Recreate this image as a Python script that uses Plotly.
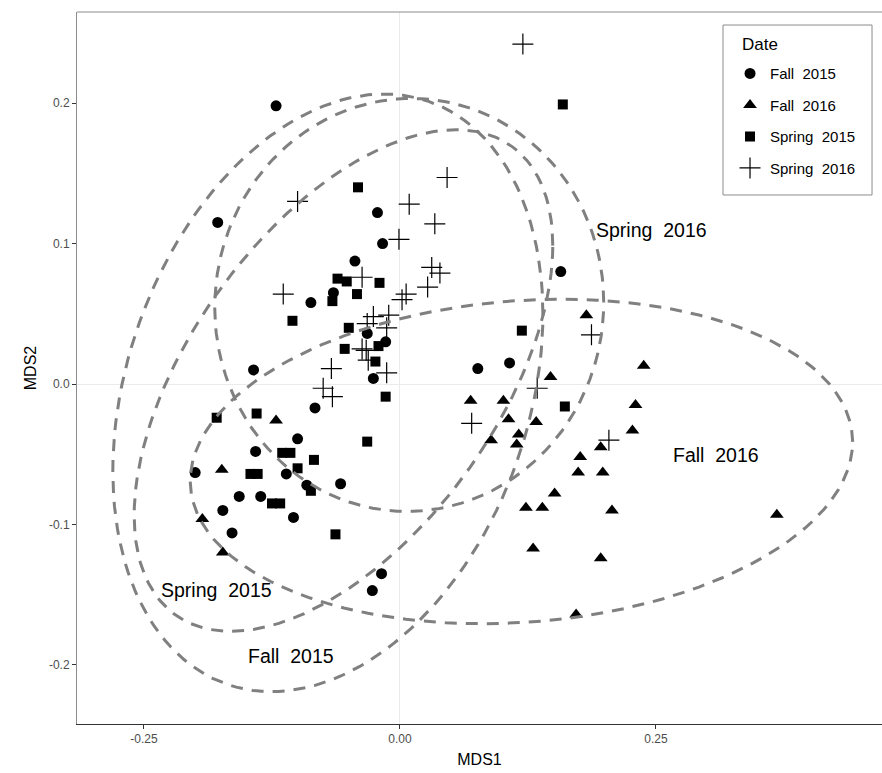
import numpy as np
import plotly.graph_objects as go

# ---------------- data ----------------
fall15_x = [-0.121, -0.178, -0.022, -0.017, -0.044, -0.065, -0.087, -0.032, -0.014, -0.026,
            -0.083, 0.157, 0.076, 0.107, -0.143, -0.141, -0.200, -0.157, -0.136, -0.111,
            -0.173, -0.164, -0.100, -0.091, -0.058, -0.104, -0.018, -0.027]
fall15_y = [0.198, 0.115, 0.122, 0.100, 0.0875, 0.065, 0.058, 0.036, 0.030, 0.004,
            -0.017, 0.080, 0.011, 0.015, 0.010, -0.048, -0.063, -0.080, -0.080, -0.064,
            -0.090, -0.106, -0.039, -0.072, -0.071, -0.095, -0.135, -0.147]

fall16_x = [0.182, 0.238, 0.147, 0.069, 0.101, 0.230, 0.106, 0.133, 0.089, 0.116,
            0.114, 0.227, 0.176, 0.196, 0.174, 0.198, 0.151, 0.123, 0.139, 0.207,
            0.368, 0.130, 0.196, 0.172, -0.121, -0.174, -0.193, -0.173]
fall16_y = [0.049, 0.013, 0.005, -0.012, -0.012, -0.015, -0.025, -0.027, -0.040, -0.036,
            -0.043, -0.033, -0.052, -0.045, -0.063, -0.063, -0.078, -0.088, -0.088, -0.090,
            -0.093, -0.117, -0.124, -0.164, -0.026, -0.061, -0.096, -0.120]

spring15_x = [0.159, -0.041, -0.061, -0.052, -0.020, -0.042, -0.066, -0.105, -0.050, -0.054,
              -0.021, -0.024, -0.014, 0.119, 0.161, -0.179, -0.140, -0.032, -0.115, -0.107,
              -0.084, -0.100, -0.146, -0.139, -0.087, -0.125, -0.117, -0.063]
spring15_y = [0.199, 0.140, 0.075, 0.073, 0.072, 0.064, 0.059, 0.045, 0.040, 0.025,
              0.027, 0.016, -0.009, 0.038, -0.016, -0.024, -0.021, -0.041, -0.049, -0.049,
              -0.054, -0.060, -0.064, -0.064, -0.076, -0.085, -0.085, -0.107]

spring16_x = [0.120, -0.100, -0.114, -0.037, 0.046, 0.009, 0.034, -0.001, 0.031, 0.039,
              0.027, 0.006, 0.002, -0.011, -0.026, -0.013, -0.032, -0.037, -0.033, -0.031,
              -0.067, -0.013, -0.075, -0.066, 0.187, 0.134, 0.070, 0.204]
spring16_y = [0.242, 0.130, 0.064, 0.076, 0.147, 0.128, 0.114, 0.103, 0.083, 0.079,
              0.069, 0.064, 0.060, 0.049, 0.048, 0.040, 0.043, 0.025, 0.024, 0.017,
              0.011, 0.008, -0.003, -0.009, 0.035, -0.003, -0.028, -0.040]

groups = ["Fall 2015", "Fall 2016", "Spring 2015", "Spring 2016"]
group_x = [fall15_x, fall16_x, spring15_x, spring16_x]
group_y = [fall15_y, fall16_y, spring15_y, spring16_y]
symbols = ["circle", "triangle-up", "square", "cross-thin"]
sizes = [11, 12, 10, 15]

label_text = ["Spring\u00a0 2016", "Fall\u00a0 2016", "Spring\u00a0 2015", "Fall\u00a0 2015"]
label_x = [0.246, 0.309, -0.179, -0.106]
label_y = [0.1096, -0.0505, -0.1466, -0.1936]

x_ticks = [-0.25, 0.0, 0.25]
x_ticktext = ["-0.25", "0.00", "0.25"]
y_ticks = [-0.2, -0.1, 0.0, 0.1, 0.2]
y_ticktext = ["-0.2", "-0.1", "0.0", "0.1", "0.2"]


# ---------------- 95% normal-theory ellipse around each group ----------------
def group_ellipse(xs, ys, level=0.95, segments=150):
    xy = np.column_stack([xs, ys]).astype(float)
    center = xy.mean(axis=0)
    shape = np.cov(xy, rowvar=False)
    radius = np.sqrt(-2.0 * np.log(1.0 - level))  # sqrt(qchisq(level, 2))
    L = np.linalg.cholesky(shape)
    ang = np.linspace(0, 2 * np.pi, segments + 1)
    circ = np.column_stack([np.cos(ang), np.sin(ang)])
    ell = center + radius * (circ @ L.T)
    return ell[:, 0], ell[:, 1]


def legend_name(g):
    a, b = g.split(" ")
    return a + "\u00a0 " + b


fig = go.Figure()

for name, xs, ys, sym, sz in zip(groups, group_x, group_y, symbols, sizes):
    marker = dict(symbol=sym, size=sz, color="black")
    if sym == "cross-thin":
        marker["line"] = dict(color="black", width=1.2)
    fig.add_trace(go.Scatter(x=xs, y=ys, mode="markers", name=legend_name(name),
                             legendgroup=name, marker=marker))

for name, xs, ys in zip(groups, group_x, group_y):
    ex, ey = group_ellipse(xs, ys)
    fig.add_trace(go.Scatter(x=ex, y=ey, mode="lines", showlegend=False,
                             hoverinfo="skip",
                             line=dict(color="#808080", width=3, dash="12px,9px")))

for t, x, y in zip(label_text, label_x, label_y):
    fig.add_annotation(x=x, y=y, text=t, showarrow=False,
                       font=dict(family="Liberation Sans", size=19.5, color="black"))

# legend title drawn as text inside a framed box
fig.add_annotation(xref="paper", yref="paper", x=0.8236, y=0.955, xanchor="left",
                   yanchor="middle", text="Date", showarrow=False,
                   font=dict(family="Liberation Sans", size=17, color="black"))
fig.add_shape(type="rect", xref="paper", yref="paper", x0=0.8025, x1=0.9876,
              y0=0.743, y1=0.9817, line=dict(color="#8c8c8c", width=1),
              fillcolor="rgba(0,0,0,0)", layer="above")

fig.update_layout(
    width=882, height=773,
    margin=dict(l=77, r=0, t=12, b=49),
    plot_bgcolor="white", paper_bgcolor="white",
    font=dict(family="Liberation Sans", color="#4D4D4D"),
    showlegend=True,
    legend=dict(
        font=dict(family="Liberation Sans", size=15, color="black"),
        x=0.8112, y=0.9365, xanchor="left", yanchor="top",
        borderwidth=0, bgcolor="rgba(0,0,0,0)",
        tracegroupgap=9,
    ),
    xaxis=dict(
        range=[-0.3154, 0.4707], tickvals=x_ticks, ticktext=x_ticktext,
        showgrid=False, zeroline=True, zerolinecolor="#EBEBEB", zerolinewidth=1,
        ticks="outside", ticklen=4, tickcolor="#333333",
        showline=True, linecolor="#333333", linewidth=1,
        tickfont=dict(size=12, color="#4D4D4D"),
        title=dict(text="MDS1", font=dict(size=16, color="black"), standoff=8),
    ),
    yaxis=dict(
        range=[-0.2420, 0.2648], tickvals=y_ticks, ticktext=y_ticktext,
        showgrid=False, zeroline=True, zerolinecolor="#EBEBEB", zerolinewidth=1,
        ticks="outside", ticklen=4, tickcolor="#333333",
        showline=True, linecolor="#8c8c8c", linewidth=1,
        tickfont=dict(size=12, color="#4D4D4D"),
        title=dict(text="MDS2", font=dict(size=16, color="black"), standoff=8),
    ),
)

# top frame line of the panel
fig.add_shape(type="line", xref="paper", yref="paper", x0=0, x1=1, y0=1, y1=1,
              line=dict(color="#8c8c8c", width=1), layer="above")

fig.write_html("out.html")
